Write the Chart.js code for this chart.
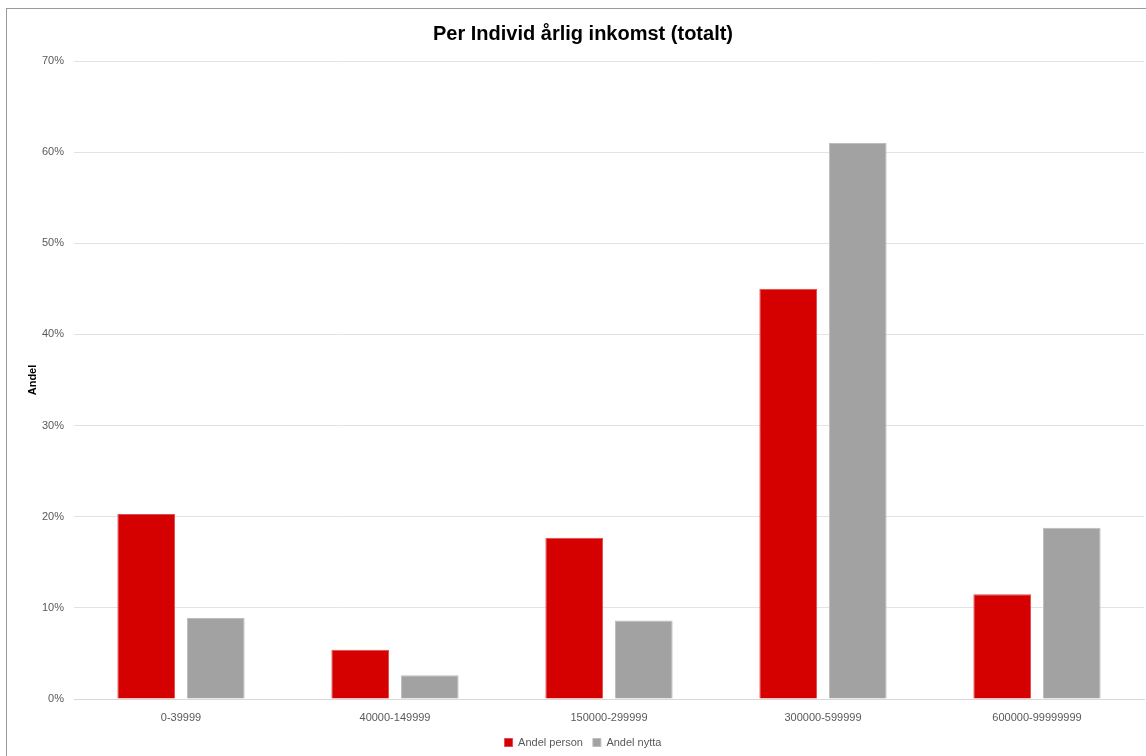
<!DOCTYPE html>
<html lang="sv">
<head>
  <meta charset="UTF-8" />
  <title>Per Individ årlig inkomst (totalt)</title>
  <script src="https://cdn.jsdelivr.net/npm/chart.js"></script>
  <style>
    html, body { margin: 0; padding: 0; background: #fff; overflow: hidden; }
    .frame { position: absolute; left: 6px; top: 8px; width: 1160px; height: 780px; border: 1px solid #9a9a9a; }
    .wrap { position: absolute; left: 0; top: 0; width: 1146px; height: 756px; }
  </style>
</head>
<body>
  <div class="frame"></div>
  <div class="wrap"><canvas id="chart"></canvas></div>

  <script>
    const categories = ["0-39999", "40000-149999", "150000-299999", "300000-599999", "600000-99999999"];
    const andelPerson = [20.3, 5.4, 17.7, 45.0, 11.5];
    const andelNytta = [8.9, 2.6, 8.6, 61.0, 18.8];
    const yTicks = [0, 10, 20, 30, 40, 50, 60, 70];

    const font = "'Liberation Sans', Arial, sans-serif";
    Chart.defaults.font.family = font;
    Chart.defaults.color = "#595959";

    new Chart(document.getElementById("chart").getContext("2d"), {
      type: "bar",
      data: {
        labels: categories,
        datasets: [
          { label: "Andel person", data: andelPerson, backgroundColor: "#d50000", borderColor: "#e04a4a", borderWidth: 1 },
          { label: "Andel nytta", data: andelNytta, backgroundColor: "#a2a2a2", borderColor: "#bdbdbd", borderWidth: 1 }
        ]
      },
      options: {
        responsive: true,
        maintainAspectRatio: false,
        animation: false,
        layout: { padding: { left: 22, right: 2, top: 22, bottom: -2 } },
        datasets: { bar: { categoryPercentage: 0.65, barPercentage: 0.83 } },
        plugins: {
          title: {
            display: true,
            text: "Per Individ årlig inkomst (totalt)",
            color: "#000",
            font: { size: 20, weight: "bold", family: font },
            padding: { top: 0, bottom: 15 }
          },
          legend: {
            position: "bottom",
            labels: { boxWidth: 8, boxHeight: 8, font: { size: 11 }, color: "#595959", padding: 10 }
          },
          tooltip: { enabled: false }
        },
        scales: {
          x: {
            afterFit: s => { s.height = 28; },
            grid: { display: false, drawTicks: false },
            border: { color: "#d9d9d9" },
            ticks: { font: { size: 11 }, padding: 12 }
          },
          y: {
            min: 0,
            max: 70,
            afterBuildTicks: s => { s.ticks = yTicks.map(v => ({ value: v })); },
            afterFit: s => { s.width = 52; },
            grid: { color: "#e3e3e3", drawTicks: false },
            border: { display: false },
            ticks: { font: { size: 11 }, padding: 10, callback: v => v + "%" },
            title: { display: true, text: "Andel", color: "#000", font: { size: 11, weight: "bold" } }
          }
        }
      }
    });
  </script>
</body>
</html>
